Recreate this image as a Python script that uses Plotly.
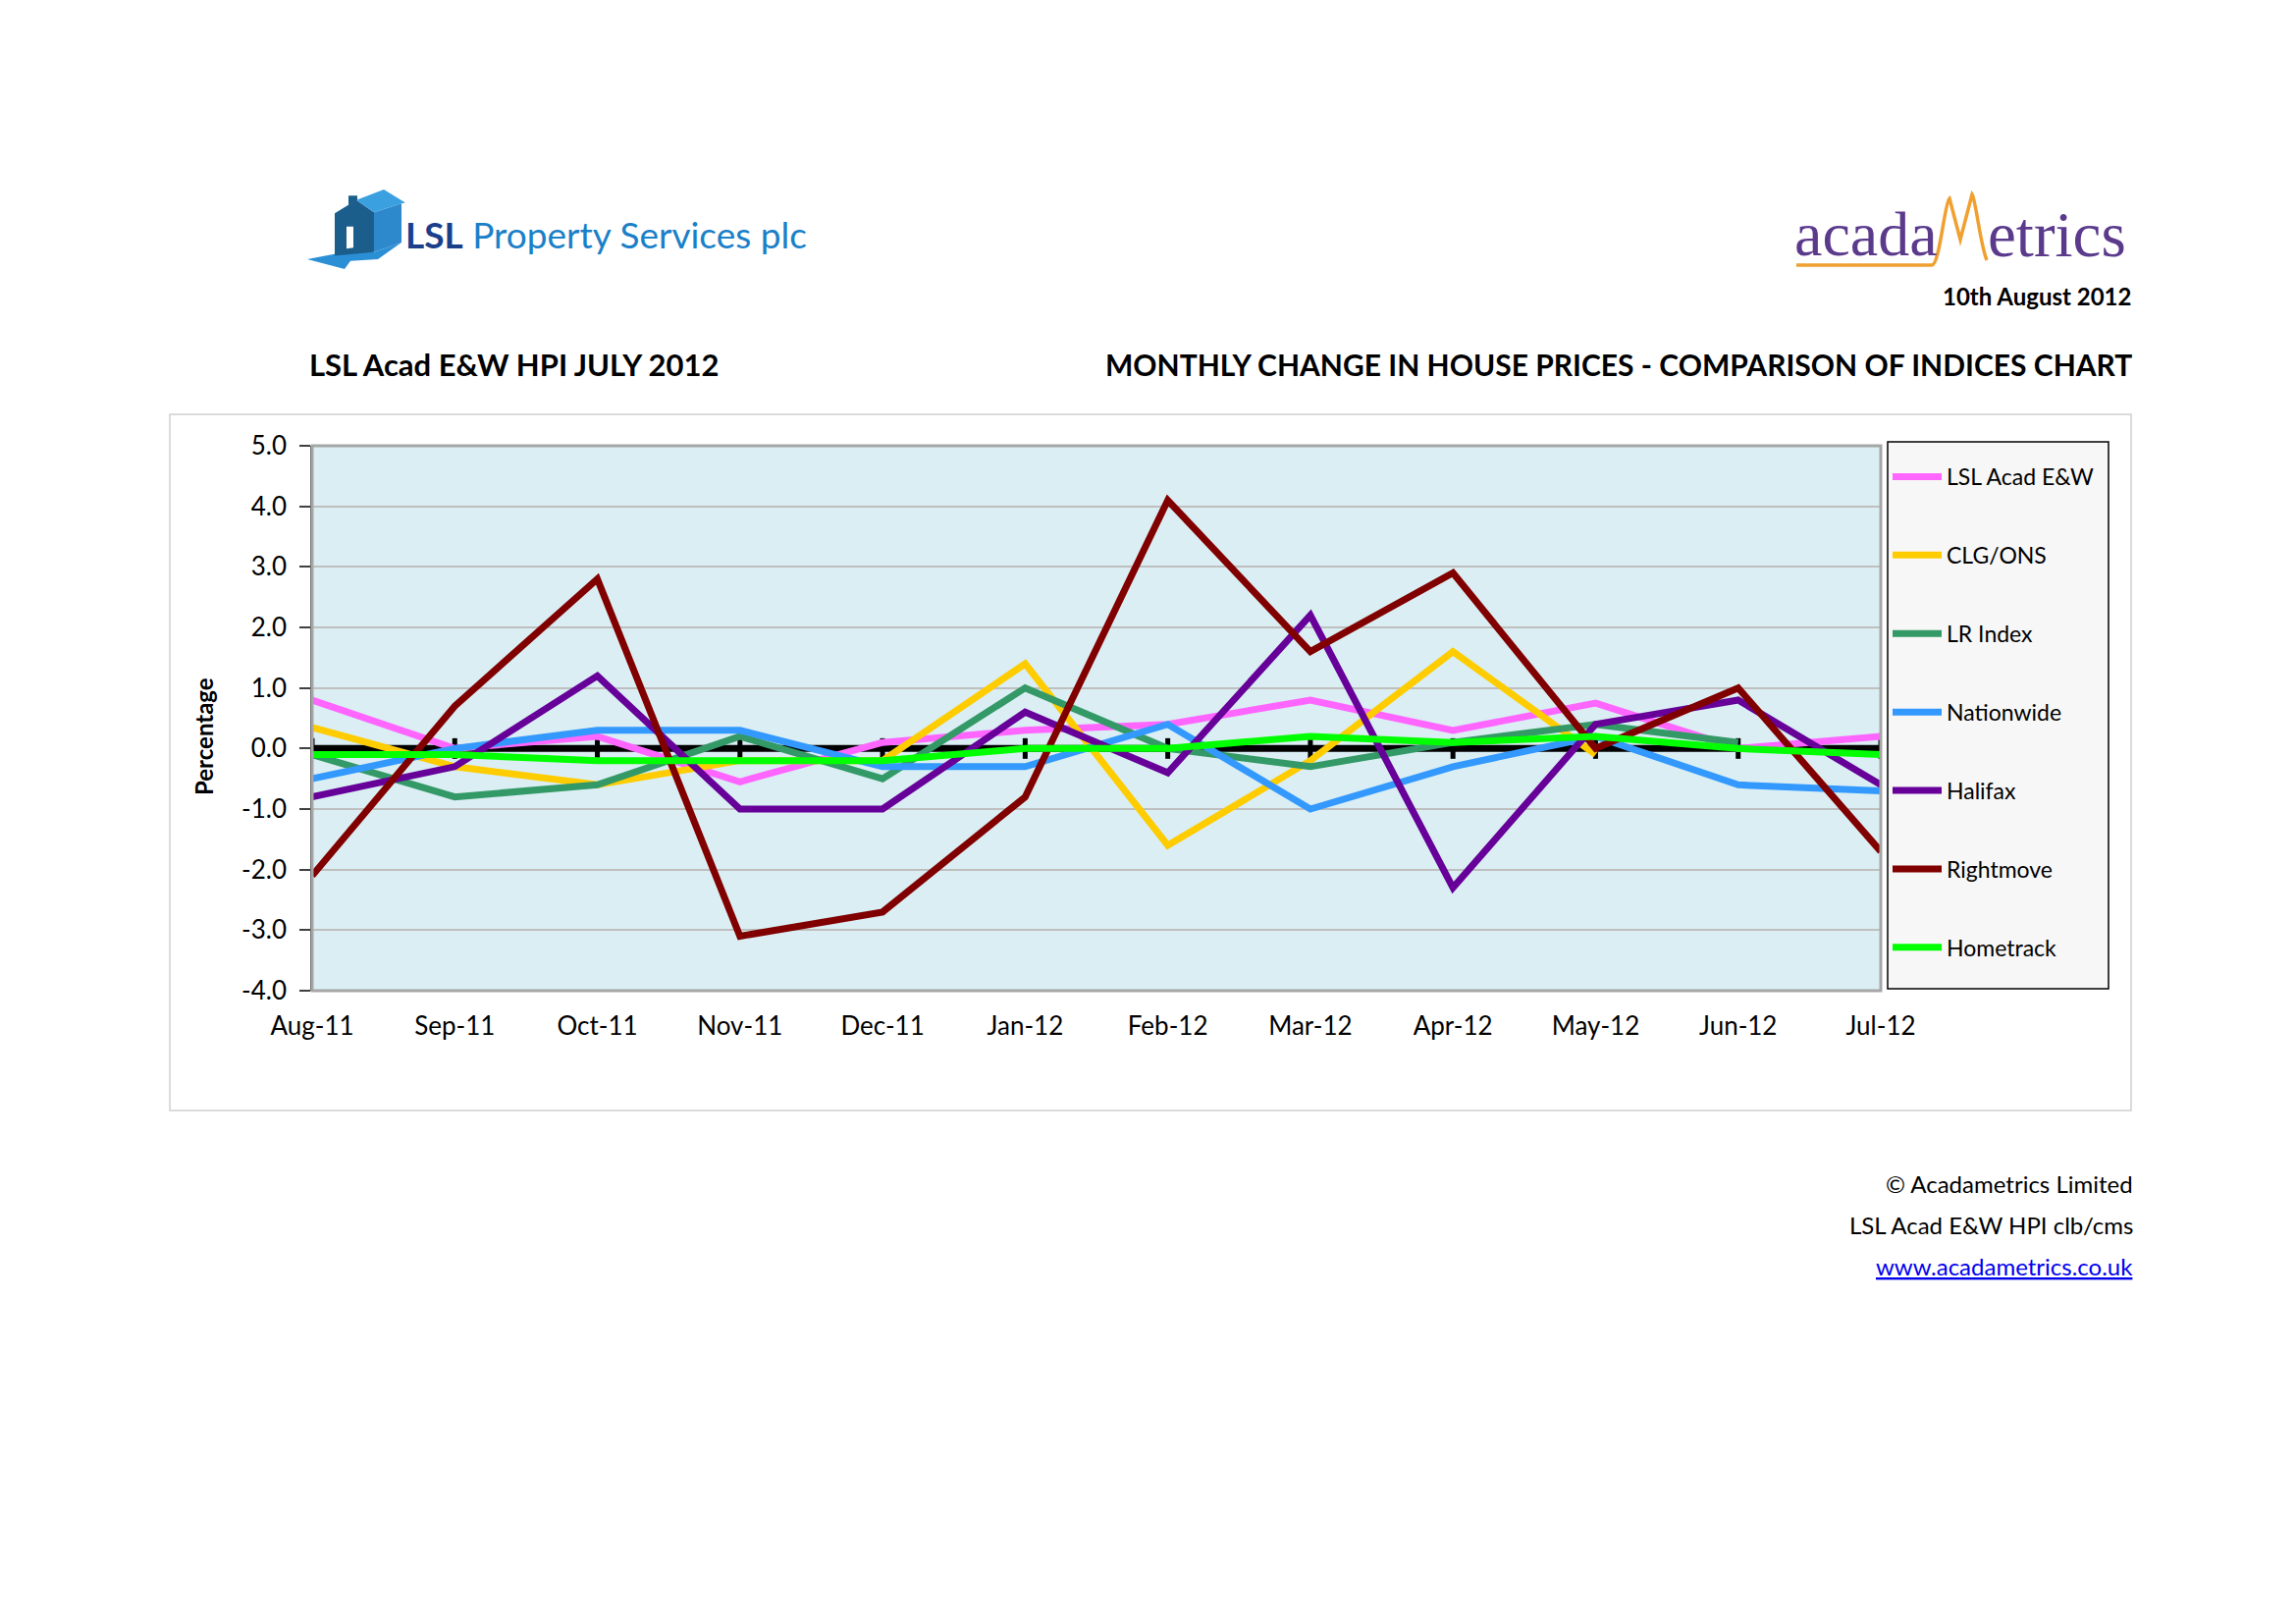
import plotly.graph_objects as go

W, H = 2339, 1654
# plot area in pixels
PL, PR, PT, PB = 310, 1908, 446, 1001

months = ["Aug-11", "Sep-11", "Oct-11", "Nov-11", "Dec-11", "Jan-12",
          "Feb-12", "Mar-12", "Apr-12", "May-12", "Jun-12", "Jul-12"]

lsl_acad = [0.8, 0.0, 0.2, -0.55, 0.1, 0.3, 0.4, 0.8, 0.3, 0.75, 0.0, 0.2]
clg_ons = [0.35, -0.3, -0.6, -0.2, -0.2, 1.4, -1.6, -0.2, 1.6, -0.1, None, None]
lr_index = [-0.1, -0.8, -0.6, 0.2, -0.5, 1.0, 0.0, -0.3, 0.1, 0.4, 0.1, None]
nationwide = [-0.5, 0.0, 0.3, 0.3, -0.3, -0.3, 0.4, -1.0, -0.3, 0.2, -0.6, -0.7]
halifax = [-0.8, -0.3, 1.2, -1.0, -1.0, 0.6, -0.4, 2.2, -2.3, 0.4, 0.8, -0.6]
rightmove = [-2.1, 0.7, 2.8, -3.1, -2.7, -0.8, 4.1, 1.6, 2.9, 0.0, 1.0, -1.7]
hometrack = [-0.1, -0.1, -0.2, -0.2, -0.2, 0.0, 0.0, 0.2, 0.1, 0.2, 0.0, -0.1]
zero_line = [0.0] * 12

series_names = ["LSL Acad E&W", "CLG/ONS", "LR Index", "Nationwide",
                "Halifax", "Rightmove", "Hometrack"]
series_values = [lsl_acad, clg_ons, lr_index, nationwide, halifax, rightmove, hometrack]
series_colors = ["#FF66FF", "#FFCC00", "#339966", "#3399FF", "#660099", "#800000", "#00FF00"]

y_tickvals = [5, 4, 3, 2, 1, 0, -1, -2, -3, -4]
y_ticktext = ["5.0", "4.0", "3.0", "2.0", "1.0", "0.0", "-1.0", "-2.0", "-3.0", "-4.0"]

FONT = "Lato"


def px(x):
    return (x - PL) / (PR - PL)


def py(y):
    return (PB - y) / (PB - PT)


fig = go.Figure()

# zero line with cross tick marks (category axis crossing at 0)
fig.add_trace(go.Scatter(
    x=list(range(len(months))), y=zero_line, mode="lines",
    line=dict(color="black", width=7), showlegend=False, hoverinfo="skip",
    error_y=dict(type="constant", value=0.17, color="black", thickness=5, width=0),
))

for name, vals, col in zip(series_names, series_values, series_colors):
    fig.add_trace(go.Scatter(
        x=list(range(len(months))), y=vals, name=name, mode="lines",
        line=dict(color=col, width=7), legendgroup=name,
    ))

shapes = []
# outer chart border
shapes.append(dict(type="rect", xref="paper", yref="paper",
                   x0=px(165), x1=px(2163), y0=py(414), y1=py(1123),
                   line=dict(color="#D0D0D0", width=1.5), layer="below"))
# plot area border
shapes.append(dict(type="rect", xref="paper", yref="paper",
                   x0=0, x1=1, y0=0, y1=1,
                   line=dict(color="#A6A6A6", width=3), layer="above"))
# legend box
shapes.append(dict(type="rect", xref="paper", yref="paper",
                   x0=px(1915), x1=px(2140), y0=py(442), y1=py(999),
                   fillcolor="#F7F7F7", line=dict(color="black", width=1.5), layer="below"))


def poly(points, color):
    # logo drawn in page pixels, slightly shifted/scaled
    pts = [(a - 7, 186 + (b - 186) * 0.9 - 2) for a, b in points]
    d = "M " + " L ".join(f"{px(a):.5f},{py(b):.5f}" for a, b in pts) + " Z"
    return dict(type="path", xref="paper", yref="paper", path=d,
                fillcolor=color, line=dict(width=0))


# LSL house logo
shapes.append(poly([(312, 266), (350, 258), (380, 258), (408, 247), (384, 266), (356, 268), (350, 277)], "#2B8FD6"))
shapes.append(poly([(340, 214), (362, 199), (380, 213), (380, 258), (340, 262)], "#1B5E8C"))
shapes.append(poly([(380, 213), (408, 203), (408, 247), (380, 258)], "#2E88CC"))
shapes.append(poly([(362, 199), (390, 187), (412, 202), (408, 203), (380, 213)], "#3AA0E0"))
shapes.append(poly([(354, 205), (354, 194), (363, 194), (363, 199)], "#1B5E8C"))
shapes.append(poly([(352, 229), (359, 229), (359, 253), (352, 254)], "white"))


def P(x, y):
    return f"{px(x):.5f},{py(y):.5f}"


# acadaMetrics orange swoosh
m_path = (f"M {P(1822, 262)} L {P(1960, 262)} C {P(1968, 262)} {P(1973, 198)} {P(1978, 194)} "
          f"L {P(1989, 236)} L {P(2001, 190)} C {P(2005, 196)} {P(2009, 240)} {P(2016, 257)}")
shapes.append(dict(type="path", xref="paper", yref="paper", path=m_path,
                   line=dict(color="#F0A030", width=3.5)))

annotations = []


def text(x, y, s, size, xanchor="left", color="black", bold=False, family=FONT, angle=0):
    annotations.append(dict(
        x=px(x), y=py(y), xref="paper", yref="paper", text=(f"<b>{s}</b>" if bold else s),
        showarrow=False, xanchor=xanchor, yanchor="middle", textangle=angle,
        font=dict(family=family, size=size, color=color)))


text(403, 231, "<span style='color:#1B3F8B'><b>LSL</b></span> Property Services plc", 37, color="#1A80C8")
text(1818, 231, "acada", 64, color="#5B3A8C", family="Liberation Serif")
text(2015, 231, "etrics", 65, xanchor="left", color="#5B3A8C", family="Liberation Serif")
text(2165, 294, "10th August 2012", 24, xanchor="right", bold=True)
text(305, 363, "LSL Acad E&W HPI JULY 2012", 31, bold=True)
text(2166, 363, "MONTHLY CHANGE IN HOUSE PRICES - COMPARISON OF INDICES CHART", 30, xanchor="right", bold=True)
text(199, 742, "Percentage", 24, xanchor="center", bold=True, angle=-90)
text(2167, 1197, "© Acadametrics Limited", 24, xanchor="right")
text(2167, 1239, "LSL Acad E&W HPI clb/cms", 24, xanchor="right")
text(2167, 1281, "<a href='http://www.acadametrics.co.uk' style='color:#0000EE'><u>www.acadametrics.co.uk</u></a>",
     24, xanchor="right", color="#0000EE")

fig.update_layout(
    width=W, height=H,
    margin=dict(l=PL, r=W - PR, t=PT, b=H - PB, pad=0),
    paper_bgcolor="white", plot_bgcolor="#DAEEF3",
    font=dict(family=FONT, size=26, color="black"),
    shapes=shapes, annotations=annotations,
    showlegend=True,
    legend=dict(x=px(1915), y=py(456), xanchor="left", yanchor="top",
                bgcolor="rgba(0,0,0,0)", borderwidth=0,
                font=dict(family=FONT, size=23, color="black"),
                tracegroupgap=47, itemwidth=50, traceorder="grouped"),
    xaxis=dict(range=[0, len(months) - 1], tickvals=list(range(len(months))), ticktext=months,
               showgrid=False, zeroline=False, showline=False, ticks="",
               ticklabelstandoff=18, tickfont=dict(size=26)),
    yaxis=dict(range=[-4, 5], tickvals=y_tickvals, ticktext=y_ticktext,
               showgrid=True, gridcolor="#BFBFBF", gridwidth=1.5, zeroline=False,
               showline=True, linecolor="#404040", linewidth=1.5,
               ticks="outside", ticklen=11, tickcolor="#404040", tickwidth=1.5,
               ticklabelstandoff=8, tickfont=dict(size=26)),
)

fig.write_html("out.html")
